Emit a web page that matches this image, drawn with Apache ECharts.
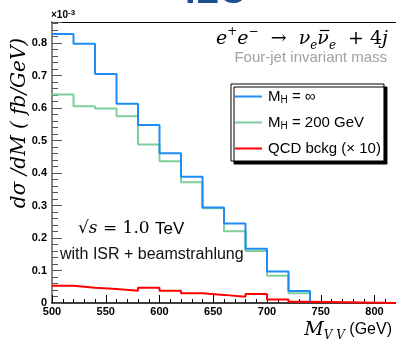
<!DOCTYPE html>
<html><head><meta charset="utf-8">
<script src="https://cdn.jsdelivr.net/npm/echarts@6/dist/echarts.min.js"></script>
<style>html,body{margin:0;padding:0;background:#fff}#c{width:396px;height:340px}</style>
</head><body><div id="c"></div>
<script>
// bin lower edges (GeV), 20 GeV bins
const binEdges = [500,520,540,560,580,600,620,640,660,680,700,720];
const histEnd = 740;
const axisEnd = 820;
// dσ/dM in units of 1e-3 fb/GeV
const mhInf = [0.828,0.798,0.705,0.613,0.548,0.461,0.389,0.294,0.245,0.167,0.097,0.037];
const mh200 = [0.642,0.606,0.599,0.575,0.488,0.436,0.372,0.292,0.221,0.160,0.084,0.030];
const qcdX10 = [0.053,0.047,0.043,0.038,0.047,0.038,0.030,0.025,0.019,0.028,0.011,0.004];
const seriesNames = ['M_H = ∞','M_H = 200 GeV','QCD bckg (× 10)'];

function hist(vals, extend){
  const d = binEdges.map((e,i)=>[e, vals[i]]);
  d.push([histEnd, 0]);
  if (extend) d.push([axisEnd, 0]);
  return d;
}
const serif = 'DejaVu Serif';
// position of the macron over the second ν (measure text widths)
const ctx = document.createElement('canvas').getContext('2d');
function w(t, font){ ctx.font = font; return ctx.measureText(t).width; }
const eqRight = 388;
const wj = w('j', 'italic 19px "DejaVu Serif"');
const wplus = w('  + 4', '19px "DejaVu Serif"');
const wsub = w('e', 'italic 12px "DejaVu Serif"');
const wnu = w('ν', 'italic 19px "DejaVu Serif"');
const nuRight = eqRight - wj - wplus - wsub;
const macX1 = nuRight - wnu + 2.5, macX2 = nuRight + 0.5;

const chart = echarts.init(document.getElementById('c'), null, {renderer:'canvas'});
const lblFont = {fontFamily:'Liberation Sans', fontWeight:'bold', fontSize:11, color:'#000'};
chart.setOption({
  animation:false,
  grid:{left:52, right:0, top:22, bottom:37},
  xAxis:[{
    type:'value', min:500, max:axisEnd, interval:50,
    axisLine:{lineStyle:{color:'#000', width:1.5}},
    axisTick:{inside:true, length:8, lineStyle:{color:'#000'}},
    minorTick:{show:true, splitNumber:5, length:4, lineStyle:{color:'#000'}},
    axisLabel:Object.assign({margin:3, showMaxLabel:false}, lblFont),
    splitLine:{show:false}
  },{
    type:'value', min:500, max:axisEnd, position:'top',
    axisLine:{show:true, lineStyle:{color:'#000', width:1}},
    axisTick:{show:false}, axisLabel:{show:false}, splitLine:{show:false}
  }],
  yAxis:{
    type:'value', min:0, max:0.865, interval:0.1,
    axisLine:{show:true, lineStyle:{color:'#888', width:2}},
    axisTick:{inside:true, length:10, lineStyle:{color:'#555'}},
    minorTick:{show:true, splitNumber:5, length:6, lineStyle:{color:'#555'}},
    axisLabel:Object.assign({margin:5, showMaxLabel:false, formatter:v=>v===0?'0':v.toFixed(1)}, lblFont),
    splitLine:{show:false}
  },
  legend:{
    left:231, top:84, orient:'vertical',
    padding:[5,3,5,4], itemGap:9.5, itemWidth:27, itemHeight:2, icon:'rect',
    backgroundColor:'#fff', borderColor:'#000', borderWidth:1,
    shadowColor:'#000', shadowBlur:0, shadowOffsetX:3, shadowOffsetY:3,
    formatter:function(n){
      if(n.indexOf('M_H')===0) return '{a|M}{b|H}{a|'+n.slice(3)+'}';
      return '{a|'+n+'}';
    },
    textStyle:{padding:[0,0,0,1], rich:{
      a:{fontFamily:'Liberation Sans', fontSize:15, color:'#000', lineHeight:18},
      b:{fontFamily:'Liberation Sans', fontSize:10, color:'#000', lineHeight:18, verticalAlign:'bottom'}
    }},
    data:seriesNames
  },
  series:[
    {name:seriesNames[0], type:'line', step:'end', symbol:'none', data:hist(mhInf,false), color:'#1e8cf2', lineStyle:{width:2}, z:3},
    {name:seriesNames[1], type:'line', step:'end', symbol:'none', data:hist(mh200,false), color:'#7fcf9a', lineStyle:{width:2}, z:2},
    {name:seriesNames[2], type:'line', step:'end', symbol:'none', data:hist(qcdX10,true), color:'#ff0000', lineStyle:{width:2}, z:4}
  ],
  graphic:[
    {type:'text', left:185, top:-26, style:{text:'ILC', fontFamily:'Liberation Sans', fontWeight:'bold', fontSize:38, fill:'#1b4f8f'}},
    {type:'text', x:51, y:15, style:{text:'{a|×10}{b|-3}', verticalAlign:'middle', rich:{
      a:{fontFamily:'Liberation Sans', fontWeight:'bold', fontSize:10, fill:'#000', lineHeight:12},
      b:{fontFamily:'Liberation Sans', fontWeight:'bold', fontSize:8, fill:'#000', lineHeight:12, verticalAlign:'top'}}}},
    {type:'text', x:20, y:123, rotation:Math.PI/2, style:{text:'dσ /dM ( fb/GeV)', align:'center', verticalAlign:'middle', fontFamily:serif, fontStyle:'italic', fontSize:20, fill:'#000'}},
    {type:'text', x:eqRight, y:39, style:{align:'right', verticalAlign:'middle',
      text:'{i|e}{p|+}{i|e}{p|−}{r|  →  }{i|ν}{s|e}{i|ν}{s|e}{r|  + 4}{i|j}',
      rich:{
        i:{fontFamily:serif, fontStyle:'italic', fontSize:19, fill:'#000', lineHeight:26},
        r:{fontFamily:serif, fontSize:19, fill:'#000', lineHeight:26},
        p:{fontFamily:serif, fontSize:12, fill:'#000', lineHeight:24, verticalAlign:'top'},
        s:{fontFamily:serif, fontStyle:'italic', fontSize:12, fill:'#000', lineHeight:26, verticalAlign:'bottom'}
      }}},
    {type:'line', shape:{x1:macX1, y1:30.5, x2:macX2, y2:30.5}, style:{stroke:'#000', lineWidth:1.2}},
    {type:'text', x:387, y:58, style:{text:'Four-jet invariant mass', align:'right', verticalAlign:'middle', fontFamily:'Liberation Sans', fontSize:15, fill:'#a0a0a0'}},
    {type:'text', x:78, y:229, style:{verticalAlign:'middle',
      text:'{r|√}{i|s}{r| = 1.0 }{t|TeV}',
      rich:{
        r:{fontFamily:serif, fontSize:17, fill:'#000'},
        i:{fontFamily:serif, fontStyle:'italic', fontSize:17, fill:'#000'},
        t:{fontFamily:'Liberation Sans', fontSize:17, fill:'#000'}
      }}},
    {type:'text', x:60, y:255, style:{text:'with ISR + beamstrahlung', verticalAlign:'middle', fontFamily:'Liberation Sans', fontSize:16, fill:'#111'}},
    {type:'text', x:392, y:330, style:{align:'right', verticalAlign:'middle',
      text:'{m|M}{s|V V}{g| (GeV)}',
      rich:{
        m:{fontFamily:serif, fontStyle:'italic', fontSize:19, fill:'#000', lineHeight:24},
        s:{fontFamily:serif, fontStyle:'italic', fontSize:12, fill:'#000', lineHeight:24, verticalAlign:'bottom'},
        g:{fontFamily:'Liberation Sans', fontSize:16, fill:'#000', lineHeight:24}
      }}}
  ]
});
</script></body></html>
